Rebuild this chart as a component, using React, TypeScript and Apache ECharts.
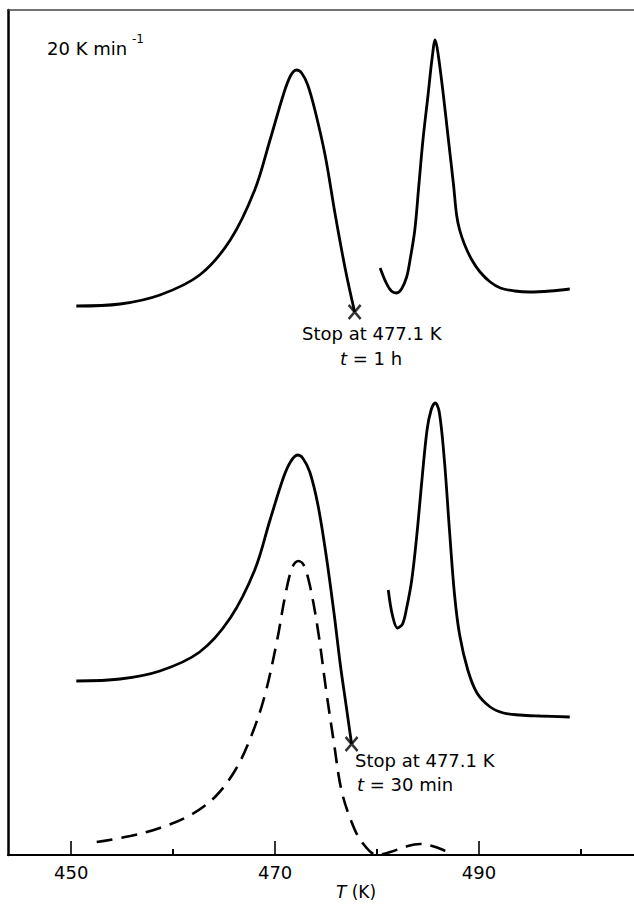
import { useEffect, useRef } from "react";
import * as echarts from "echarts";

// Temperature axis (K)
const xMin = 443.8;
const xMax = 505.2;
const majorTicks = [450, 470, 490];
const minorTicks = [460, 480, 500];

// Upper trace (signal in arbitrary units, 0 = bottom axis)
const upperPeak1T = [450.5, 454.8, 458.7, 462.6, 465.6, 468.0, 469.5, 470.8, 471.5, 472.1, 472.6, 473.2, 473.9, 474.9, 475.9, 476.9, 477.8];
const upperPeak1S = [549, 551, 560, 580, 615, 665, 715, 760, 779, 785, 782, 770, 745, 700, 640, 585, 543];

const upperPeak2T = [480.3, 480.9, 481.4, 481.9, 482.4, 482.9, 483.2, 483.7, 484.1, 484.5, 485.0, 485.4, 485.7, 486.0, 486.5, 487.0, 487.5, 487.8, 488.1, 488.6, 489.3, 490.1, 491.1, 492.1, 493.5, 495.0, 497.0, 498.9];
const upperPeak2S = [587, 572, 564, 562, 566, 578, 593, 625, 670, 715, 760, 797, 815, 800, 760, 715, 670, 640, 625, 610, 595, 583, 573, 567, 564, 563, 564, 566];

// Lower trace
const lowerPeak1T = [450.5, 454.8, 458.7, 462.6, 465.6, 468.0, 469.5, 470.8, 471.5, 472.2, 472.7, 473.4, 474.2, 475.0, 475.8, 476.4, 477.0, 477.5];
const lowerPeak1S = [174, 176, 184, 203, 237, 285, 335, 377, 393, 400, 397, 383, 350, 300, 240, 190, 147, 111];

const lowerPeak2T = [481.1, 481.5, 482.0, 482.5, 482.9, 483.4, 483.9, 484.4, 484.9, 485.3, 485.7, 486.1, 486.6, 487.1, 487.6, 488.1, 488.9, 489.8, 491.1, 492.4, 494.0, 496.0, 498.9];
const lowerPeak2S = [265, 240, 227, 231, 247, 275, 320, 375, 425, 445, 452, 443, 395, 325, 260, 220, 185, 162, 148, 142, 140, 139, 138];

// Dashed trace
const dashedT = [452.5, 455.8, 458.7, 461.7, 464.1, 466.1, 467.7, 469.0, 470.2, 471.0, 471.7, 472.3, 472.8, 473.4, 474.2, 475.0, 475.8, 476.5, 477.5, 478.5, 480.0, 481.3, 482.7, 484.2, 485.4, 486.5, 487.5];
const dashedS = [13, 19, 27, 40, 58, 85, 120, 160, 215, 260, 288, 294, 290, 270, 225, 165, 110, 65, 33, 13, 0, 3, 8, 11, 9, 5, 0];

// Stop points (x marks)
const stopT = [477.8, 477.5];
const stopS = [543, 111];

const zip = (a: number[], b: number[]) => a.map((v, i) => [v, b[i]]);

const FONT = "DejaVu Sans";

export default function App() {
  const ref = useRef<HTMLDivElement>(null);
  useEffect(() => {
    if (!ref.current) return;
    const chart = echarts.init(ref.current, undefined, { renderer: "svg" });
    const solid = { color: "#000", width: 2.8 };
    const lineBase = {
      type: "line" as const,
      showSymbol: false,
      smooth: 0.35,
      xAxisIndex: 0,
      yAxisIndex: 0,
      silent: true,
    };
    chart.setOption({
      animation: false,
      backgroundColor: "#fff",
      grid: { left: 8, right: 0, top: 10, bottom: 49, containLabel: false },
      xAxis: [
        {
          type: "value",
          min: xMin,
          max: xMax,
          position: "bottom",
          axisLine: { lineStyle: { color: "#000", width: 2.2 } },
          axisTick: {
            inside: true,
            length: 14,
            customValues: majorTicks,
            lineStyle: { color: "#000", width: 1.6 },
          },
          axisLabel: {
            customValues: majorTicks,
            fontFamily: FONT,
            fontSize: 18,
            color: "#000",
            margin: 8,
          },
          splitLine: { show: false },
        },
        {
          type: "value",
          min: xMin,
          max: xMax,
          position: "bottom",
          axisLine: { show: false },
          axisTick: {
            inside: true,
            length: 6,
            customValues: minorTicks,
            lineStyle: { color: "#000", width: 2 },
          },
          axisLabel: { show: false },
          splitLine: { show: false },
        },
        {
          type: "value",
          min: xMin,
          max: xMax,
          position: "top",
          axisLine: { lineStyle: { color: "#444", width: 1.5 } },
          axisTick: { show: false },
          axisLabel: { show: false },
          splitLine: { show: false },
        },
      ],
      yAxis: {
        type: "value",
        min: 0,
        max: 845,
        axisLine: { show: true, lineStyle: { color: "#000", width: 2.5 } },
        axisTick: { show: false },
        axisLabel: { show: false },
        splitLine: { show: false },
      },
      series: [
        { ...lineBase, data: zip(upperPeak1T, upperPeak1S), lineStyle: solid },
        { ...lineBase, data: zip(upperPeak2T, upperPeak2S), lineStyle: solid },
        { ...lineBase, data: zip(lowerPeak1T, lowerPeak1S), lineStyle: solid },
        { ...lineBase, data: zip(lowerPeak2T, lowerPeak2S), lineStyle: solid },
        {
          ...lineBase,
          data: zip(dashedT, dashedS),
          lineStyle: { color: "#000", width: 2.6, type: [16, 9] },
        },
        {
          type: "scatter",
          data: zip(stopT, stopS),
          symbol: "path://M0,0L10,12M10,0L0,12",
          symbolSize: [12, 14],
          itemStyle: { color: "none", borderColor: "#000", borderWidth: 2.6 },
          silent: true,
        },
      ],
      graphic: [
        {
          type: "text",
          x: 47,
          y: 48,
          style: { text: "20 K min", font: `18px ${FONT}`, fill: "#000", verticalAlign: "middle", align: "left" },
        },
        {
          type: "text",
          x: 132,
          y: 39,
          style: { text: "-1", font: `12px ${FONT}`, fill: "#000", verticalAlign: "middle", align: "left" },
        },
        {
          type: "text",
          x: 302,
          y: 333,
          style: { text: "Stop at 477.1 K", font: `18px ${FONT}`, fill: "#000", verticalAlign: "middle", align: "left" },
        },
        {
          type: "text",
          x: 340,
          y: 358,
          style: {
            text: "{i|t} = 1 h",
            font: `18px ${FONT}`,
            fill: "#000",
            verticalAlign: "middle",
            align: "left",
            rich: { i: { fontStyle: "italic", fontFamily: FONT, fontSize: 18 } },
          },
        },
        {
          type: "text",
          x: 355,
          y: 760,
          style: { text: "Stop at 477.1 K", font: `18px ${FONT}`, fill: "#000", verticalAlign: "middle", align: "left" },
        },
        {
          type: "text",
          x: 357,
          y: 784,
          style: {
            text: "{i|t} = 30 min",
            font: `18px ${FONT}`,
            fill: "#000",
            verticalAlign: "middle",
            align: "left",
            rich: { i: { fontStyle: "italic", fontFamily: FONT, fontSize: 18 } },
          },
        },
        {
          type: "text",
          x: 356,
          y: 892,
          style: {
            text: "{i|T} (K)",
            font: `17px ${FONT}`,
            fill: "#000",
            verticalAlign: "middle",
            align: "center",
            rich: { i: { fontStyle: "italic", fontFamily: FONT, fontSize: 17 } },
          },
        },
      ],
    });
    return () => chart.dispose();
  }, []);
  return (
    <div
      ref={ref}
      style={{ position: "fixed", left: 0, top: 0, width: 634, height: 904, background: "#fff" }}
    />
  );
}
